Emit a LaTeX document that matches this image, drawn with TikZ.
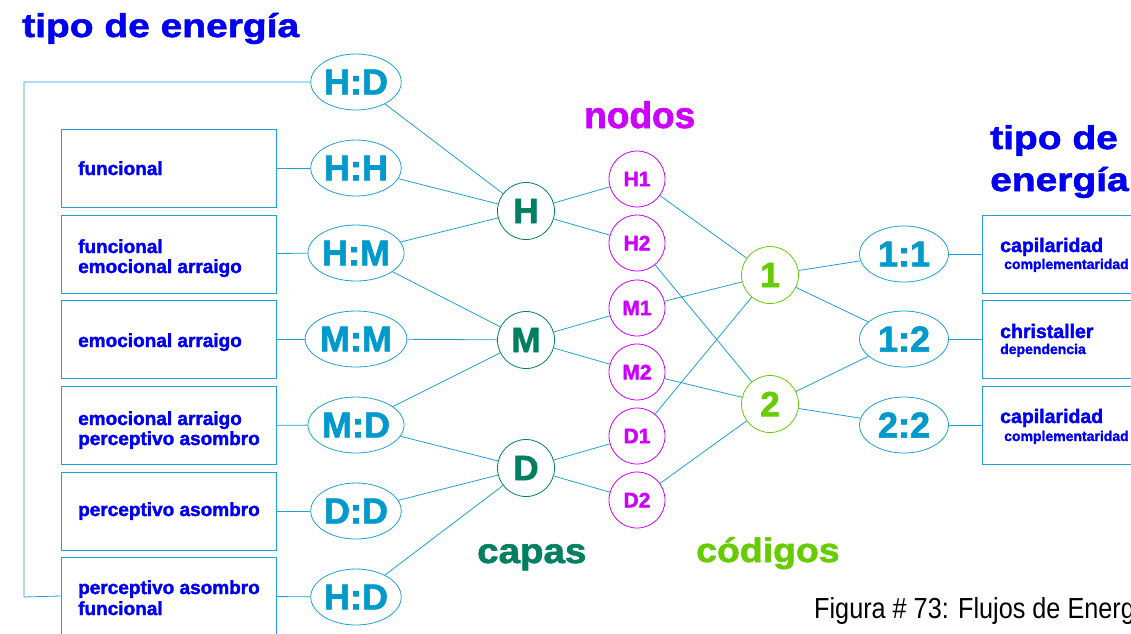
\documentclass[tikz,border=0pt]{standalone}
\usepackage{fontspec}
\setmainfont{Liberation Sans}
\newfontfamily\heavy{Liberation Sans}[UprightFont={* Bold},FakeBold=1.8]
\newfontfamily\heavywide{Liberation Sans}[UprightFont={* Bold},FakeBold=1.8,FakeStretch=1.18]
\newfontfamily\heavymid{Liberation Sans}[UprightFont={* Bold},FakeBold=1.8,FakeStretch=1.1]
\newfontfamily\narrowfont{Liberation Sans}[FakeStretch=0.87]
\usetikzlibrary{shapes.geometric}
\definecolor{lnblue}{RGB}{30,160,210}
\definecolor{elblue}{RGB}{0,153,204}
\definecolor{tblue}{RGB}{0,0,240}
\definecolor{dgreen}{RGB}{0,128,96}
\definecolor{purp}{RGB}{204,0,255}
\definecolor{lime}{RGB}{102,204,0}
\newcommand{\fsz}[1]{\fontsize{#1}{#1}\selectfont}
\begin{document}
\begin{tikzpicture}[x=1pt,y=-1pt,
  conn/.style={draw=lnblue,line width=0.8pt},
  ell/.style={ellipse,draw=lnblue,line width=0.8pt,minimum width=89pt,minimum height=56pt,inner sep=0pt,text=elblue,font=\heavy\fsz{36}},
  lay/.style={circle,draw=dgreen,line width=0.8pt,minimum size=57pt,inner sep=0pt,text=dgreen,font=\heavy\fsz{35}},
  nod/.style={circle,draw=purp,line width=0.8pt,minimum size=56pt,inner sep=0pt,text=purp,font=\heavy\fsz{21}},
  cod/.style={circle,draw=lime,line width=0.8pt,minimum size=57pt,inner sep=0pt,text=lime,font=\heavy\fsz{35}},
  lbox/.style={rectangle,draw=lnblue,line width=0.8pt,minimum width=215pt,minimum height=78pt,inner sep=0pt},
  rbox/.style={rectangle,draw=lnblue,line width=0.8pt,minimum width=230pt,minimum height=78pt,inner sep=0pt},
  ltext/.style={anchor=base west,inner sep=0pt,text=tblue,font=\heavy\fsz{19}},
  rbig/.style={anchor=base west,inner sep=0pt,text=tblue,font=\heavy\fsz{19.5}},
  rsmall/.style={anchor=base west,inner sep=0pt,text=tblue,font=\heavy\fsz{14}},
  title/.style={anchor=base west,inner sep=0pt,text=tblue,font=\heavywide\fsz{33}}
]
\useasboundingbox (0,0) rectangle (1131,633);
\clip (0,0) rectangle (1131,633);

% titles
\node[title] (t1) at (22,37) {tipo de energía};
\node[title] (t2) at (990,149) {tipo de};
\node[title] (t3) at (990,191) {energía};
\node[anchor=base west,inner sep=0pt,text=purp,font=\heavy\fsz{37}] (tn) at (584,128) {nodos};
\node[anchor=base west,inner sep=0pt,text=dgreen,font=\heavymid\fsz{35}] (tc) at (477,563) {capas};
\node[anchor=base west,inner sep=0pt,text=lime,font=\heavymid\fsz{34}] (tk) at (696,562) {códigos};
\node[anchor=base west,inner sep=0pt,text=black,font=\narrowfont\fsz{29}] (cap) at (814,618) {Figura \# 73: Flujos de Energía};

% left boxes
\node[lbox] (b1) at (168.5,168) {};
\node[lbox] (b2) at (168.5,254) {};
\node[lbox] (b3) at (168.5,339) {};
\node[lbox] (b4) at (168.5,425.5) {};
\node[lbox] (b5) at (168.5,511) {};
\node[lbox] (b6) at (168.5,596) {};
\node[ltext] (l1) at (78,175) {funcional};
\node[ltext] (l2a) at (78,253) {funcional};
\node[ltext] (l2b) at (78,273) {emocional arraigo};
\node[ltext] (l3) at (78,347) {emocional arraigo};
\node[ltext] (l4a) at (78,425) {emocional arraigo};
\node[ltext] (l4b) at (78,445) {perceptivo asombro};
\node[ltext] (l5) at (78,516) {perceptivo asombro};
\node[ltext] (l6a) at (78,594) {perceptivo asombro};
\node[ltext] (l6b) at (78,615) {funcional};

% left ellipses
\node[ell] (e0) at (356,82) {H:D};
\node[ell] (e1) at (356,168) {H:H};
\node[ell] (e2) at (356,253) {H:M};
\node[ell] (e3) at (356,339) {M:M};
\node[ell] (e4) at (356,425) {M:D};
\node[ell] (e5) at (356,511) {D:D};
\node[ell] (e6) at (356,597) {H:D};

% layers
\node[lay] (H) at (526,211) {H};
\node[lay] (M) at (526,340) {M};
\node[lay] (D) at (526,468) {D};

% nodos
\node[nod] (H1) at (637,179) {H1};
\node[nod] (H2) at (637,243) {H2};
\node[nod] (M1) at (637,308) {M1};
\node[nod] (M2) at (637,372) {M2};
\node[nod] (D1) at (637,436) {D1};
\node[nod] (D2) at (637,500) {D2};

% codigos
\node[cod] (C1) at (770,275) {1};
\node[cod] (C2) at (770,404) {2};

% right ellipses
\node[ell] (r1) at (904,254) {1:1};
\node[ell] (r2) at (904,339) {1:2};
\node[ell] (r3) at (904,425) {2:2};

% right boxes
\node[rbox] (rb1) at (1097,254) {};
\node[rbox] (rb2) at (1097,339) {};
\node[rbox] (rb3) at (1097,425) {};
\node[rbig] (s1a) at (1000,252) {capilaridad};
\node[rsmall] (s1b) at (1004,269) {complementaridad};
\node[rbig] (s2a) at (1000,338) {christaller};
\node[rsmall] (s2b) at (1000,354) {dependencia};
\node[rbig] (s3a) at (1000,423) {capilaridad};
\node[rsmall] (s3b) at (1004,441) {complementaridad};

% connectors
\coordinate (k1) at (24,82);
\coordinate (k2) at (24,597);
\draw[conn] (e0) -- (k1) -- (k2) -- (b6.west);
\draw[conn] (b1) -- (e1);
\draw[conn] (b2) -- (e2);
\draw[conn] (b3) -- (e3);
\draw[conn] (b4) -- (e4);
\draw[conn] (b5) -- (e5);
\draw[conn] (b6) -- (e6);
\draw[conn] (e0) -- (H);
\draw[conn] (e1) -- (H);
\draw[conn] (e2) -- (H);
\draw[conn] (e2) -- (M);
\draw[conn] (e3) -- (M);
\draw[conn] (e4) -- (M);
\draw[conn] (e4) -- (D);
\draw[conn] (e5) -- (D);
\draw[conn] (e6) -- (D);
\draw[conn] (H) -- (H1);
\draw[conn] (H) -- (H2);
\draw[conn] (M) -- (M1);
\draw[conn] (M) -- (M2);
\draw[conn] (D) -- (D1);
\draw[conn] (D) -- (D2);
\draw[conn] (H1) -- (C1);
\draw[conn] (M1) -- (C1);
\draw[conn] (D1) -- (C1);
\draw[conn] (H2) -- (C2);
\draw[conn] (M2) -- (C2);
\draw[conn] (D2) -- (C2);
\draw[conn] (C1) -- (r1);
\draw[conn] (C1) -- (r2);
\draw[conn] (C2) -- (r2);
\draw[conn] (C2) -- (r3);
\draw[conn] (r1) -- (rb1);
\draw[conn] (r2) -- (rb2);
\draw[conn] (r3) -- (rb3);
\end{tikzpicture}
\end{document}
